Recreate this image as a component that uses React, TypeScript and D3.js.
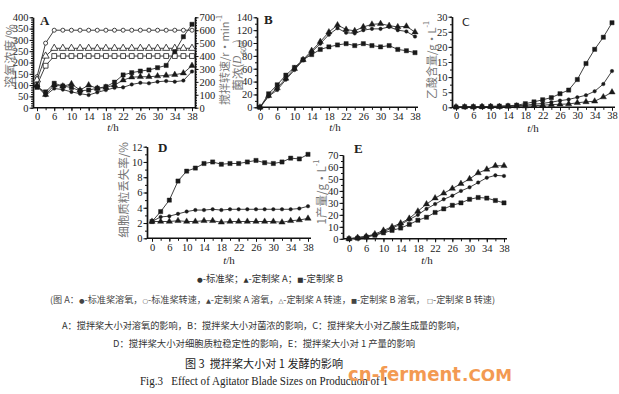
import React, { useRef, useEffect } from "react"
import * as d3 from "d3"

// sampling times (h) and labelled ticks
const hours = [0, 3, 6, 8, 10, 12, 14, 16, 18, 20, 22, 24, 26, 28, 30, 32, 34, 36, 38]
const hourTicks = [0, 6, 10, 14, 18, 22, 26, 30, 34, 38]

// A: dissolved oxygen (%) and agitation speed (r/min)
const doStd = [95, 55, 85, 80, 70, 62, 56, 68, 78, 88, 90, 103, 110, 108, 115, 118, 115, 120, 160]
const doA = [100, 58, 100, 95, 105, 78, 100, 85, 90, 100, 122, 135, 137, 137, 140, 143, 146, 153, 186]
const doB = [90, 70, 108, 96, 89, 75, 78, 86, 93, 113, 145, 155, 162, 167, 177, 187, 248, 314, 369]
const speedStd = [240, 500, 600, 600, 600, 600, 600, 600, 600, 600, 600, 600, 600, 600, 600, 600, 600, 600, 600]
const speedA = [215, 400, 460, 460, 460, 460, 460, 460, 460, 460, 460, 460, 460, 460, 460, 460, 460, 460, 460]
const speedB = [175, 325, 400, 400, 400, 400, 400, 400, 400, 400, 400, 400, 400, 400, 400, 400, 400, 400, 400]

// B: cell density (OD600)
const odStd = [0, 17, 27, 43, 58, 73, 86, 99, 113, 123, 116, 115, 120, 122, 122, 125, 120, 118, 110]
const odA = [0, 18, 30, 45, 60, 74, 88, 102, 117, 128, 121, 119, 125, 129, 130, 127, 125, 126, 117]
const odB = [0, 21, 35, 50, 62, 74, 82, 90, 94, 97, 99, 96, 99, 96, 94, 96, 90, 88, 85]

// C: acetic acid (g/L)
const acStd = [0.1, 0.1, 0.2, 0.2, 0.3, 0.3, 0.4, 0.5, 0.7, 1.0, 1.3, 1.7, 2.2, 2.6, 3.3, 4.0, 5.3, 7.7, 12]
const acA = [0.1, 0.1, 0.1, 0.2, 0.2, 0.2, 0.3, 0.4, 0.4, 0.5, 0.7, 0.9, 1.0, 1.1, 1.5, 1.8, 2.0, 3.4, 5]
const acB = [0.1, 0.2, 0.2, 0.2, 0.3, 0.4, 0.5, 0.7, 1.2, 1.8, 2.5, 3.2, 4.5, 5.7, 9.2, 14.5, 19.2, 23.2, 28]

// D: plasmid loss rate (%)
const lossStd = [2.2, 2.8, 2.9, 3.2, 3.5, 3.7, 3.7, 3.8, 3.7, 3.8, 3.8, 3.8, 3.8, 3.8, 3.8, 3.8, 3.8, 3.9, 4.2]
const lossA = [2.2, 2.2, 2.2, 2.3, 2.2, 2.2, 2.3, 2.3, 2.1, 2.2, 2.2, 2.2, 2.2, 2.2, 2.2, 2.1, 2.3, 2.4, 2.6]
const lossB = [2.2, 3.5, 5.0, 7.5, 8.8, 9.2, 9.8, 10.0, 9.7, 9.8, 9.8, 10.0, 10.2, 9.9, 9.8, 10.0, 10.5, 10.4, 11.0]

// E: product 1 titre (g/L)
const prodStd = [0, 1, 2, 3, 6, 9, 12, 16, 20, 25, 29, 33, 36, 40, 43, 47, 51, 53, 52.5]
const prodA = [0, 1, 2, 4, 7, 10, 13, 17, 23, 29, 34, 38, 42, 46, 50, 55, 58, 61, 61]
const prodB = [0, 0.5, 1.5, 3, 5, 7, 9, 12, 15.5, 18, 22, 25, 28, 30, 33, 34.5, 34, 32, 30]

const captions = [
  "●-标准桨；▲-定制桨 A；■-定制桨 B",
  "(图 A：●-标准桨溶氧，○-标准桨转速，▲-定制桨 A 溶氧，△-定制桨 A 转速，■-定制桨 B 溶氧， □-定制桨 B 转速)",
  "A：搅拌桨大小对溶氧的影响，B：搅拌桨大小对菌浓的影响，C：搅拌桨大小对乙酸生成量的影响，",
  "D：搅拌桨大小对细胞质粒稳定性的影响，E：搅拌桨大小对 1 产量的影响",
]
const figTitle = "图 3  搅拌桨大小对 1 发酵的影响"
const figTitleEn = "Fig.3   Effect of Agitator Blade Sizes on Production of 1"

const SERIF = "'Liberation Serif', 'Noto Sans CJK SC', serif"
const CJK = "'Noto Sans CJK SC', 'Liberation Serif', sans-serif"
const INK = "#222"
const TICK_FONT = 10.5

type Series = { values: number[]; marker: string; open?: boolean; right?: boolean }

type Panel = {
  letter: string
  letterAt: [number, number]
  ax: number
  xEnd: number
  x0: number
  x1: number
  y0: number
  yTop: number
  yMax: number
  yStep: number
  minor: number
  pad: number
  tAt: [number, number]
  series: Series[]
  right?: { max: number; step: number; minor: number }
}

const panels: Panel[] = [
  {
    letter: "A", letterAt: [40, 25], ax: 33, xEnd: 195, x0: 37, x1: 192, y0: 107.7, yTop: 17.3,
    yMax: 400, yStep: 50, minor: 5, pad: 1, tAt: [113, 131],
    right: { max: 700, step: 100, minor: 5 },
    series: [
      { values: speedStd, marker: "circle", open: true, right: true },
      { values: speedA, marker: "triangle", open: true, right: true },
      { values: speedB, marker: "square", open: true, right: true },
      { values: doStd, marker: "circle" },
      { values: doA, marker: "triangle" },
      { values: doB, marker: "square" },
    ],
  },
  {
    letter: "B", letterAt: [264, 24], ax: 257, xEnd: 418, x0: 260, x1: 415, y0: 107.3, yTop: 17.3,
    yMax: 140, yStep: 20, minor: 2, pad: 2, tAt: [335, 131],
    series: [
      { values: odStd, marker: "circle" },
      { values: odA, marker: "triangle" },
      { values: odB, marker: "square" },
    ],
  },
  {
    letter: "C", letterAt: [462, 26], ax: 452, xEnd: 615, x0: 456, x1: 612, y0: 107.3, yTop: 16.7,
    yMax: 30, yStep: 5, minor: 2, pad: 1, tAt: [533, 132],
    series: [
      { values: acStd, marker: "circle" },
      { values: acA, marker: "triangle" },
      { values: acB, marker: "square" },
    ],
  },
  {
    letter: "D", letterAt: [158, 152], ax: 147, xEnd: 311, x0: 152, x1: 308, y0: 238.3, yTop: 146.7,
    yMax: 12, yStep: 2, minor: 2, pad: 2, tAt: [229, 264],
    series: [
      { values: lossStd, marker: "circle" },
      { values: lossA, marker: "triangle" },
      { values: lossB, marker: "square" },
    ],
  },
  {
    letter: "E", letterAt: [354, 153], ax: 343, xEnd: 507, x0: 349, x1: 504, y0: 238.8, yTop: 155,
    yMax: 70, yStep: 10, minor: 2, pad: 2, tAt: [427, 264],
    series: [
      { values: prodStd, marker: "circle" },
      { values: prodA, marker: "triangle" },
      { values: prodB, marker: "square" },
    ],
  },
]

const symbolTypes = {
  circle: d3.symbolCircle,
  triangle: d3.symbolTriangle,
  square: d3.symbolSquare,
}
const symbolSizes = { circle: 10, triangle: 17, square: 18 }

function styleAxis(g) {
  g.attr("font-family", SERIF).attr("font-size", TICK_FONT)
  g.selectAll("text").attr("fill", INK)
  g.selectAll("line").attr("stroke", "#111").attr("stroke-width", 1)
  g.selectAll(".domain").attr("stroke", "#111").attr("stroke-width", 1.4)
}

function drawPanel(root, p: Panel) {
  const x = d3.scalePoint<number>().domain(hours).range([p.x0, p.x1])
  const y = d3.scaleLinear().domain([0, p.yMax]).range([p.y0, p.yTop])
  const g = root.append("g")

  // y axis (left), with minor ticks
  const yMinor = d3.range(0, p.yMax + 1e-9, p.yStep / p.minor)
  g.append("g")
    .attr("transform", `translate(${p.ax},0)`)
    .call(d3.axisLeft(y).tickValues(yMinor).tickSize(2).tickFormat(() => "").tickSizeOuter(0))
    .call(styleAxis)
  g.append("g")
    .attr("transform", `translate(${p.ax},0)`)
    .call(d3.axisLeft(y).tickValues(d3.range(0, p.yMax + 1e-9, p.yStep)).tickSize(3.5).tickPadding(1).tickSizeOuter(0))
    .call(styleAxis)

  // optional right axis (panel A)
  let yR = y
  if (p.right) {
    yR = d3.scaleLinear().domain([0, p.right.max]).range([p.y0, p.yTop])
    g.append("g")
      .attr("transform", `translate(${p.xEnd},0)`)
      .call(d3.axisRight(yR).tickValues(d3.range(0, p.right.max + 1e-9, p.right.step / p.right.minor)).tickSize(2).tickFormat(() => "").tickSizeOuter(0))
      .call(styleAxis)
    g.append("g")
      .attr("transform", `translate(${p.xEnd},0)`)
      .call(d3.axisRight(yR).tickValues(d3.range(0, p.right.max + 1e-9, p.right.step)).tickSize(3.5).tickPadding(1).tickSizeOuter(0))
      .call(styleAxis)
  }

  // x axis
  const xg = g.append("g").attr("transform", `translate(0,${p.y0})`)
  xg.call(d3.axisBottom(x).tickValues(hours).tickSize(2.5).tickFormat(() => ""))
    .call(styleAxis)
  const xg2 = g.append("g").attr("transform", `translate(0,${p.y0})`)
  xg2.call(d3.axisBottom(x).tickValues(hourTicks).tickSize(3.5).tickPadding(p.pad))
    .call(styleAxis)
  xg.select(".domain").remove()
  xg2.select(".domain").remove()
  g.append("line")
    .attr("x1", p.ax).attr("x2", p.xEnd)
    .attr("y1", p.y0).attr("y2", p.y0)
    .attr("stroke", "#111").attr("stroke-width", 1.4)

  // series
  p.series.forEach(s => {
    const ys = s.right ? yR : y
    const line = d3.line<number>()
      .x((_, i) => x(hours[i]) as number)
      .y(d => ys(d))
    g.append("path")
      .attr("d", line(s.values))
      .attr("fill", "none")
      .attr("stroke", "#2a2a2a")
      .attr("stroke-width", 0.9)
    const sym = d3.symbol().type(symbolTypes[s.marker]).size(symbolSizes[s.marker] * (s.open ? 1.3 : 1))
    g.append("g").selectAll("path")
      .data(s.values)
      .join("path")
      .attr("transform", (d, i) => `translate(${x(hours[i])},${ys(d)})`)
      .attr("d", sym())
      .attr("fill", s.open ? "#fff" : "#1a1a1a")
      .attr("stroke", "#1a1a1a")
      .attr("stroke-width", s.open ? 0.8 : 0.4)
  })

  // panel letter
  g.append("text")
    .attr("x", p.letterAt[0]).attr("y", p.letterAt[1])
    .attr("font-family", p.letter === "C" ? "'DejaVu Sans', sans-serif" : SERIF)
    .attr("font-size", p.letter === "C" ? 11 : 13)
    .attr("font-weight", p.letter === "C" ? "normal" : "bold")
    .attr("fill", INK)
    .text(p.letter)

  // x title
  const t = g.append("text")
    .attr("x", p.tAt[0]).attr("y", p.tAt[1])
    .attr("text-anchor", "middle")
    .attr("font-family", SERIF).attr("font-size", 11).attr("fill", INK)
  t.append("tspan").attr("font-style", "italic").text("t")
  t.append("tspan").text("/h")
}

function yTitle(root, cx: number, cy: number, parts: [string, string?][], size: number) {
  const t = root.append("text")
    .attr("transform", `translate(${cx},${cy}) rotate(-90)`)
    .attr("text-anchor", "middle")
    .attr("dominant-baseline", "central")
    .attr("font-family", CJK)
    .attr("font-size", size)
    .attr("fill", "#777")
  parts.forEach(([txt, kind]) => {
    const ts = t.append("tspan").text(txt)
    if (kind === "sup") ts.attr("baseline-shift", "super").attr("font-size", size * 0.65)
    if (kind === "sub") ts.attr("baseline-shift", "sub").attr("font-size", size * 0.65).attr("font-style", "italic")
    if (kind === "it") ts.attr("font-style", "italic").attr("font-family", SERIF)
  })
}

function caption(root, txt: string, x0: number, x1: number, baseline: number, size: number, font: string, fill: string) {
  // legend glyphs are set smaller than the surrounding text, inside one run
  const marked = /[●▲■○△□]/.test(txt)
  const t = root.append("text")
    .attr("x", x0).attr("y", baseline)
    .attr("textLength", x1 - x0)
    .attr("lengthAdjust", "spacingAndGlyphs")
    .attr("font-family", font)
    .attr("font-size", size)
    .attr("fill", fill)
    .style("white-space", "pre")
  if (!marked) {
    t.text(txt)
    return
  }
  txt.split(/([●▲■○△□])/).filter(s => s !== "").forEach(part => {
    const ts = t.append("tspan").text(part)
    if (/^[●▲■○△□]$/.test(part)) {
      ts.attr("font-size", size * 0.7).attr("font-family", "'DejaVu Sans', sans-serif")
    }
  })
}

function drawFigure(svgEl: SVGSVGElement) {
  const svg = d3.select(svgEl)
  svg.selectAll("*").remove()
  svg.append("rect").attr("width", 619).attr("height", 394).attr("fill", "#fff")

  panels.forEach(p => drawPanel(svg, p))

  yTitle(svg, 8.5, 56, [["溶氧浓度/%"]], 12)
  yTitle(svg, 224, 60, [["搅拌转速/r·min"], ["-1", "sup"]], 11)
  yTitle(svg, 237, 65, [["菌浓("], ["D", "it"], ["600", "sub"], [")"]], 11.5)
  yTitle(svg, 431, 60, [["乙酸含量/g·L"], ["-1", "sup"]], 11)
  yTitle(svg, 123, 190, [["细胞质粒丢失率/%"]], 11.5)
  yTitle(svg, 321, 192, [["1产量/g·L"], ["-1", "sup"]], 11.5)

  caption(svg, captions[0], 197, 343, 282, 9.5, CJK, "#333")
  caption(svg, captions[1], 50, 495, 303, 9, CJK, "#444")
  caption(svg, captions[2], 62, 465, 329, 9.5, CJK, "#333")
  caption(svg, captions[3], 113, 415, 347, 9.5, CJK, "#333")
  caption(svg, figTitle, 185, 343, 368, 11.5, CJK, "#222")
  caption(svg, figTitleEn, 140, 388, 385, 12.5, SERIF, "#222")

  // site watermark
  const wm = svg.append("g").attr("fill", "#f39a52").attr("font-family", "'DejaVu Sans', sans-serif").attr("font-weight", "bold")
  wm.append("text").attr("x", 348).attr("y", 381).attr("font-size", 19)
    .attr("textLength", 113).attr("lengthAdjust", "spacingAndGlyphs").text("cn-ferment")
  wm.append("text").attr("x", 462).attr("y", 381).attr("font-size", 16)
    .attr("textLength", 50).attr("lengthAdjust", "spacingAndGlyphs").text(".COM")
}

export default function App() {
  const ref = useRef<SVGSVGElement>(null)
  useEffect(() => {
    if (ref.current != null) drawFigure(ref.current)
  }, [])
  return (
    <svg
      ref={ref}
      width={619}
      height={394}
      style={{ position: "absolute", left: 0, top: 0, display: "block" }}
    />
  )
}
